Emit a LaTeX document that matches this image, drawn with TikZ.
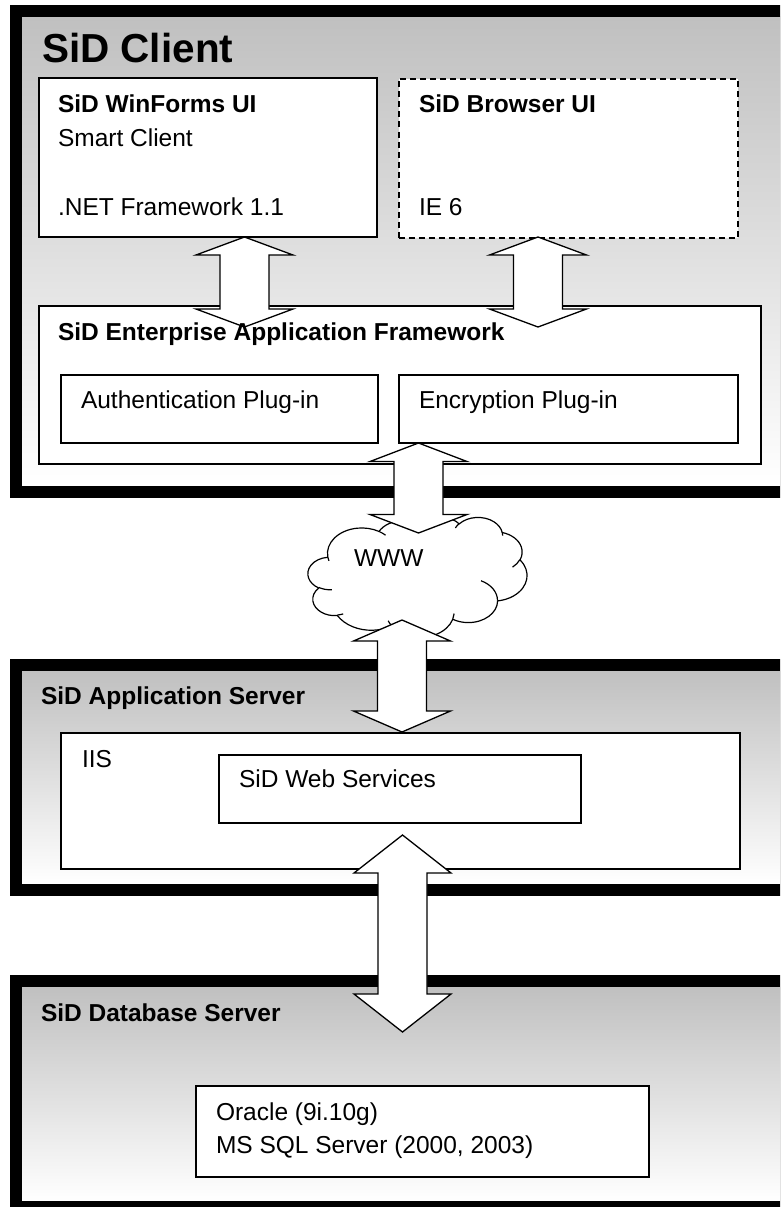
\documentclass[tikz,border=0pt]{standalone}
\usepackage{fontspec}
\setmainfont{Liberation Sans}
\definecolor{gbase}{RGB}{192,192,192}
\tikzset{
  frameline/.style={draw=black, line width=12pt},
  shadefill/.style={top color=gbase, bottom color=white, draw=none},
  box/.style={draw=black, line width=1.2pt, fill=white, outer sep=0pt, inner sep=0pt, anchor=north west},
  dbox/.style={box, dash pattern=on 6pt off 4pt, line width=2pt},
  txt/.style={anchor=base west, inner sep=0pt, outer sep=0pt, font=\fontsize{24.5}{29}\selectfont},
  btxt/.style={txt, font=\bfseries\fontsize{24.5}{29}\selectfont},
  ttl/.style={txt, font=\bfseries\fontsize{40.5}{48}\selectfont},
  blockarrow/.style={draw=black, line width=1.3pt, fill=white, line join=miter},
  cloudline/.style={draw=black, line width=1.2pt, line join=round},
}
% #1 centre x, #2 top tip y, #3 bottom tip y, #4 head length (pixels, y downwards)
\newcommand\dblblock[4]{%
  \draw[blockarrow] (#1,-#2) -- (#1+48.5,-#2-#4) -- (#1+24.5,-#2-#4) -- (#1+24.5,-#3+#4)
    -- (#1+48.5,-#3+#4) -- (#1,-#3) -- (#1-48.5,-#3+#4) -- (#1-24.5,-#3+#4)
    -- (#1-24.5,-#2-#4) -- (#1-48.5,-#2-#4) -- cycle;}
\begin{document}
\begin{tikzpicture}[x=1pt,y=1pt]
\useasboundingbox (0,0) rectangle (780,-1207);
\fill[white] (0,0) rectangle (780,-1207);
\clip (0,0) rectangle (780,-1207);

% ---- frames ----
\fill[shadefill] (22,-17) rectangle (800,-486);
\draw[frameline] (16,-11) rectangle (806,-492);
\fill[shadefill] (22,-671) rectangle (800,-884);
\draw[frameline] (16,-665) rectangle (806,-890);
\fill[shadefill] (22,-987) rectangle (800,-1201);
\draw[frameline] (16,-981) rectangle (806,-1207);

% ---- boxes ----
\node[box, minimum width=338pt, minimum height=159pt] (win) at (39,-78) {};
\node[dbox, minimum width=339pt, minimum height=159pt] (brw) at (398.5,-78.5) {};
\node[box, minimum width=722pt, minimum height=158pt] (eaf) at (39,-306) {};
\node[box, minimum width=317pt, minimum height=68pt] (auth) at (61,-375) {};
\node[box, minimum width=339pt, minimum height=68pt] (enc) at (399,-375) {};
\node[box, minimum width=679pt, minimum height=136pt] (iis) at (61,-733) {};
\node[box, minimum width=362pt, minimum height=68pt] (ws) at (219,-755) {};
\node[box, minimum width=453pt, minimum height=91pt] (ora) at (196,-1086) {};

% ---- cloud (office cloud geometry) ----
\begin{scope}[shift={(308,-517)},xscale=0.50694,yscale=-0.27778]
\draw[cloudline, fill=white] (39.00,143.70)
 arc[start angle=172.253, delta angle=128.110, x radius=67.53, y radius=91.90]
 arc[start angle=-152.025, delta angle=106.589, x radius=53.33, y radius=72.67]
 arc[start angle=-153.478, delta angle=116.148, x radius=43.65, y radius=59.45]
 arc[start angle=-139.695, delta angle=129.484, x radius=48.57, y radius=65.95]
 arc[start angle=-74.768, delta angle=97.979, x radius=53.33, y radius=72.73]
 arc[start angle=-37.527, delta angle=119.389, x radius=67.75, y radius=92.20]
 arc[start angle=0.460, delta angle=121.516, x radius=57.85, y radius=78.67]
 arc[start angle=16.845, delta angle=129.398, x radius=67.52, y radius=92.15]
 arc[start angle=58.985, delta angle=91.213, x radius=77.20, y radius=105.43]
 arc[start angle=83.306, delta angle=139.814, x radius=43.60, y radius=59.18]
 arc[start angle=120.353, delta angle=143.760, x radius=43.45, y radius=59.45]
 -- cycle;
\draw[cloudline]
 (46.93,261.77) arc[start angle=85.547, delta angle=34.809, x radius=43.45, y radius=59.45]
 (69.28,348.99) arc[start angle=68.236, delta angle=15.070, x radius=43.60, y radius=59.18]
 (164.78,390.90) arc[start angle=146.243, delta angle=12.230, x radius=67.52, y radius=92.15]
 (288.27,347.51) arc[start angle=4.738, delta angle=12.107, x radius=67.52, y radius=92.15]
 (341.29,229.54) arc[start angle=-64.026, delta angle=64.486, x radius=57.85, y radius=78.67]
 (417.98,153.54) arc[start angle=23.211, delta angle=26.426, x radius=53.33, y radius=72.73]
 (383.24,54.26) arc[start angle=-10.211, delta angle=11.032, x radius=48.57, y radius=65.95]
 (290.78,39.52) arc[start angle=-156.289, delta angle=16.594, x radius=48.57, y radius=65.95]
 (221.41,47.20) arc[start angle=-167.727, delta angle=14.249, x radius=43.65, y radius=59.45]
 (140.00,51.92) arc[start angle=-59.637, delta angle=13.923, x radius=67.53, y radius=91.90]
 (41.27,157.89) arc[start angle=163.193, delta angle=9.061, x radius=67.53, y radius=91.90];
\end{scope}
\node[inner sep=0pt] (www) at (417,-577) {};

% ---- block arrows ----
\dblblock{244.5}{237}{327}{18}
\dblblock{538}{237}{327}{18}
\dblblock{418.5}{443}{533}{18.5}
\dblblock{402}{620}{732}{21}
\dblblock{402.5}{835}{1032}{38}

% ---- texts ----
\node[ttl]  (t1)  at (42,-63)   {SiD Client};
\node[btxt] (t2)  at (58,-112)  {SiD WinForms UI};
\node[txt]  (t3)  at (58,-146)  {Smart Client};
\node[txt]  (t4)  at (58,-215)  {.NET Framework 1.1};
\node[btxt] (t5)  at (419,-112) {SiD Browser UI};
\node[txt]  (t6)  at (419,-215) {IE 6};
\node[btxt] (t7)  at (58,-340)  {SiD Enterprise Application Framework};
\node[txt]  (t8)  at (81,-408)  {Authentication Plug-in};
\node[txt]  (t9)  at (419,-408) {Encryption Plug-in};
\node[txt]  (t10) at (354,-566) {WWW};
\node[btxt] (t11) at (41,-704)  {SiD Application Server};
\node[txt]  (t12) at (82,-767)  {IIS};
\node[txt]  (t13) at (239,-787) {SiD Web Services};
\node[btxt] (t14) at (41,-1021) {SiD Database Server};
\node[txt]  (t15) at (216,-1120) {Oracle (9i.10g)};
\node[txt]  (t16) at (216,-1153) {MS SQL Server (2000, 2003)};
\end{tikzpicture}
\end{document}
